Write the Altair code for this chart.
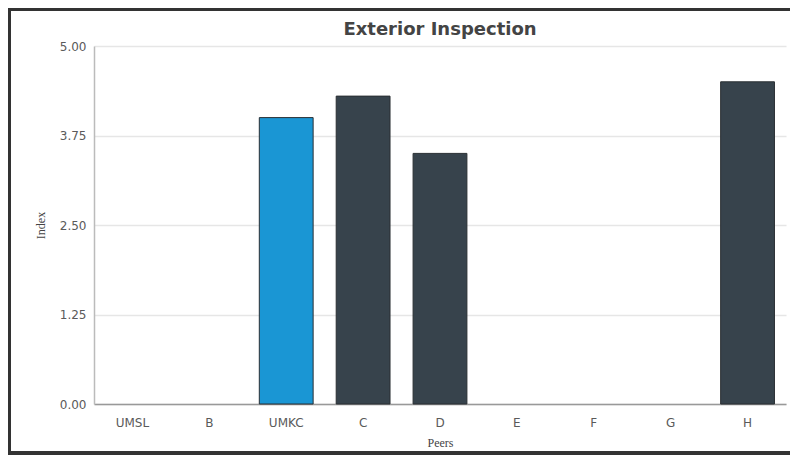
import altair as alt
import pandas as pd

peers = ["UMSL", "B", "UMKC", "C", "D", "E", "F", "G", "H"]
values = [0, 0, 4.0, 4.3, 3.5, 0, 0, 0, 4.5]
groups = ["other", "other", "self", "other", "other", "other", "other", "other", "other"]
y_ticks = [0, 1.25, 2.5, 3.75, 5]
chart_title = "Exterior Inspection"

df = pd.DataFrame({"Peers": peers, "Index": values, "group": groups})

bars = alt.Chart(df).mark_bar(strokeWidth=1).encode(
    x=alt.X("Peers:N", sort=peers, title="Peers",
            scale=alt.Scale(paddingInner=0.3, paddingOuter=0.15),
            axis=alt.Axis(labelAngle=0, labelFont="DejaVu Sans", labelFontSize=12,
                          labelColor="#5a5a5a", labelPadding=13, ticks=False,
                          domainColor="#999999", domainWidth=1.5,
                          titleFont="Liberation Serif", titleFontSize=12,
                          titleFontWeight="normal", titleColor="#444444",
                          titlePadding=9)),
    y=alt.Y("Index:Q", title="Index",
            scale=alt.Scale(domain=[0, 5], nice=False),
            axis=alt.Axis(values=y_ticks, format=".2f", labelFont="DejaVu Sans",
                          labelFontSize=12, labelColor="#5a5a5a", labelPadding=8,
                          ticks=False, domainColor="#bbbbbb", domainWidth=1.5,
                          gridColor="#e6e6e6", gridWidth=1.5,
                          titleFont="Liberation Serif", titleFontSize=12,
                          titleFontWeight="normal", titleColor="#444444",
                          titlePadding=12)),
    color=alt.Color("group:N",
                    scale=alt.Scale(domain=["self", "other"], range=["#1a96d4", "#37434c"]),
                    legend=None),
    stroke=alt.condition("datum.Index > 0", alt.value("#2a2f33"), alt.value("transparent")),
)

title_text = alt.Chart(alt.Data(values=[{"t": chart_title}])).mark_text(
    font="DejaVu Sans", fontSize=18, fontWeight="bold", color="#444444",
    align="center", baseline="alphabetic"
).encode(
    text="t:N",
    x=alt.value(346), y=alt.value(-11),
)

one = alt.Data(values=[{}])
border_top = alt.Chart(one).mark_rule(color="#333333", strokeWidth=4).encode(
    x=alt.value(-87), x2=alt.value(740), y=alt.value(-37))
border_left = alt.Chart(one).mark_rule(color="#333333", strokeWidth=4).encode(
    x=alt.value(-85), y=alt.value(-39), y2=alt.value(409))
border_bottom = alt.Chart(one).mark_rule(color="#333333", strokeWidth=4).encode(
    x=alt.value(-87), x2=alt.value(740), y=alt.value(407))

chart = alt.layer(bars, title_text, border_top, border_left, border_bottom).properties(
    width=692, height=358,
    padding={"left": 86, "top": 38, "right": 4, "bottom": 52},
    autosize=alt.AutoSizeParams(type="none"),
).configure_view(stroke=None)

chart.save("out.html", embed_options={"renderer": "svg", "actions": False})
